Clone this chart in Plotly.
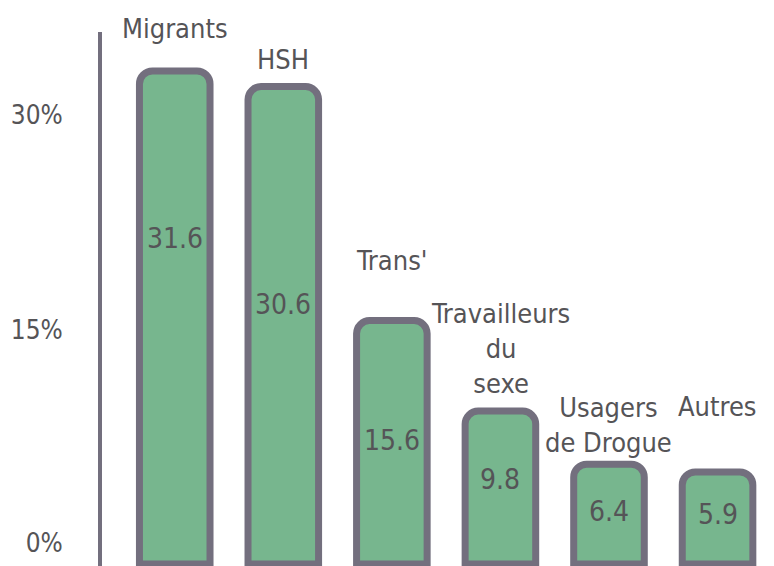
import plotly.graph_objects as go

categories = ["Migrants", "HSH", "Trans'", "Travailleurs<br>du<br>sexe", "Usagers<br>de Drogue", "Autres"]
values = [31.6, 30.6, 15.6, 9.8, 6.4, 5.9]
value_labels = ["31.6", "30.6", "15.6", "9.8", "6.4", "5.9"]
tick_labels = ["0%", "15%", "30%"]

FONT = "DejaVu Sans Condensed, Liberation Sans Narrow, sans-serif"
TXT = "#555457"
FILL = "#77b68e"
EDGE = "#736f7e"

x = list(range(len(categories)))

fig = go.Figure()
fig.add_trace(go.Bar(
    x=x, y=values, width=0.65,
    marker=dict(color=FILL, line=dict(color=EDGE, width=7)),
    hoverinfo="skip",
))

# style offsets (pixels) for label placement
cat_shift = [43, 27, 60, 63, 39, 65]
val_shift = [79, 21, 2, 8, 3, 3]

for i, (c, v) in enumerate(zip(categories, values)):
    fig.add_annotation(x=i, y=v, text=c, showarrow=False, yanchor="middle",
                       yshift=cat_shift[i], font=dict(family=FONT, size=27, color=TXT))
    fig.add_annotation(x=i, y=v / 2, text=value_labels[i], showarrow=False, yanchor="middle",
                       yshift=val_shift[i], font=dict(family=FONT, size=28, color=TXT))

fig.update_layout(
    width=774, height=566,
    margin=dict(l=102, r=0, t=32, b=0),
    paper_bgcolor="white", plot_bgcolor="white",
    barcornerradius=13,
    showlegend=False,
    xaxis=dict(range=[-0.67, 5.52], showticklabels=False, showgrid=False,
               zeroline=False, showline=False, fixedrange=True, automargin=False),
    yaxis=dict(range=[-0.128, 34.1], showgrid=False, zeroline=False,
               showline=True, linecolor=EDGE, linewidth=4,
               tickmode="array", tickvals=[1.35, 15, 28.8], ticktext=tick_labels,
               ticks="", ticklabelstandoff=30, automargin=False,
               tickfont=dict(family=FONT, size=26, color=TXT), fixedrange=True),
)

fig.write_html("out.html")
